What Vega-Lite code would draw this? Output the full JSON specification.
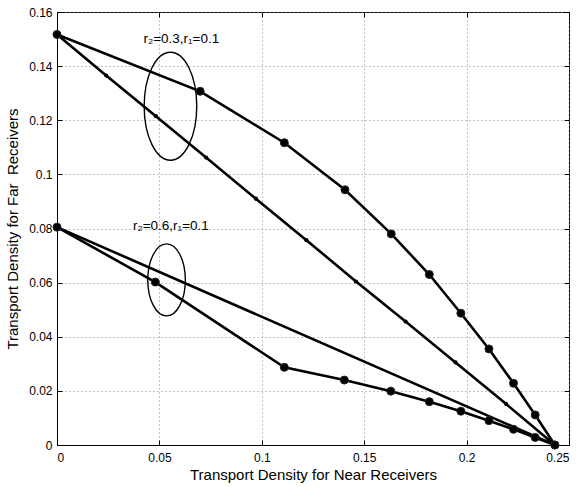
{
  "$schema": "https://vega.github.io/schema/vega-lite/v6.json",
  "width": 512,
  "height": 433,
  "autosize": {"type": "none"},
  "padding": {"left": 57, "top": 12, "right": 13, "bottom": 42},
  "background": "white",
  "config": {
    "view": {"stroke": "black", "strokeWidth": 1},
    "font": "Liberation Sans",
    "axis": {
      "domainColor": "black",
      "tickColor": "black",
      "labelColor": "black",
      "titleColor": "black",
      "labelFont": "Liberation Sans",
      "titleFont": "Liberation Sans",
      "labelFontSize": 12,
      "titleFontSize": 15,
      "titleFontWeight": "normal",
      "gridColor": "#888888",
      "gridDash": [1, 3],
      "gridWidth": 1,
      "tickSize": -5
    }
  },
  "datasets": {
    "series": [
      {"s": "A", "m": "big", "x": 0, "y": 0.1517},
      {"s": "A", "m": "big", "x": 0.0699, "y": 0.1307},
      {"s": "A", "m": "big", "x": 0.111, "y": 0.1117},
      {"s": "A", "m": "big", "x": 0.1406, "y": 0.0943},
      {"s": "A", "m": "big", "x": 0.1632, "y": 0.078},
      {"s": "A", "m": "big", "x": 0.1818, "y": 0.063},
      {"s": "A", "m": "big", "x": 0.1972, "y": 0.0487},
      {"s": "A", "m": "big", "x": 0.2109, "y": 0.0355},
      {"s": "A", "m": "big", "x": 0.2229, "y": 0.0228},
      {"s": "A", "m": "big", "x": 0.2335, "y": 0.0111},
      {"s": "A", "m": "big", "x": 0.2431, "y": 0},
      {"s": "B", "m": "small", "x": 0, "y": 0.1517},
      {"s": "B", "m": "small", "x": 0.024, "y": 0.1365},
      {"s": "B", "m": "small", "x": 0.0483, "y": 0.1215},
      {"s": "B", "m": "small", "x": 0.0728, "y": 0.1062},
      {"s": "B", "m": "small", "x": 0.0971, "y": 0.091},
      {"s": "B", "m": "small", "x": 0.1218, "y": 0.0757},
      {"s": "B", "m": "small", "x": 0.146, "y": 0.0604},
      {"s": "B", "m": "small", "x": 0.1702, "y": 0.0456},
      {"s": "B", "m": "small", "x": 0.1946, "y": 0.0305},
      {"s": "B", "m": "small", "x": 0.2192, "y": 0.0152},
      {"s": "B", "m": "small", "x": 0.2431, "y": 0},
      {"s": "C", "m": "big", "x": 0, "y": 0.0805},
      {"s": "C", "m": "big", "x": 0.048, "y": 0.0602},
      {"s": "C", "m": "big", "x": 0.111, "y": 0.0287},
      {"s": "C", "m": "big", "x": 0.1403, "y": 0.024},
      {"s": "C", "m": "big", "x": 0.163, "y": 0.0199},
      {"s": "C", "m": "big", "x": 0.1818, "y": 0.016},
      {"s": "C", "m": "big", "x": 0.1972, "y": 0.0125},
      {"s": "C", "m": "big", "x": 0.2109, "y": 0.009},
      {"s": "C", "m": "big", "x": 0.2229, "y": 0.0058},
      {"s": "C", "m": "big", "x": 0.2335, "y": 0.0028},
      {"s": "C", "m": "big", "x": 0.2431, "y": 0},
      {"s": "D", "m": "none", "x": 0, "y": 0.0805},
      {"s": "D", "m": "none", "x": 0.2431, "y": 0}
    ]
  },
  "resolve": {"axis": {"x": "independent", "y": "independent"}},
  "layer": [
    {
      "data": {"name": "series"},
      "mark": {"type": "line", "color": "black", "strokeWidth": 2.6},
      "encoding": {
        "x": {
          "field": "x", "type": "quantitative",
          "scale": {"domain": [0, 0.25], "nice": false, "zero": false},
          "axis": {
            "orient": "bottom",
            "values": [0, 0.05, 0.1, 0.15, 0.2, 0.25],
            "format": "~g",
            "labelPadding": 12,
            "title": "Transport Density for Near Receivers",
            "titlePadding": 4
          }
        },
        "y": {
          "field": "y", "type": "quantitative",
          "scale": {"domain": [0, 0.16], "nice": false, "zero": false},
          "axis": {
            "orient": "left",
            "values": [0, 0.02, 0.04, 0.06, 0.08, 0.1, 0.12, 0.14, 0.16],
            "format": "~g",
            "labelPadding": 10,
            "title": "Transport Density for Far\u00a0 Receivers",
            "titlePadding": 8
          }
        },
        "detail": {"field": "s"}
      }
    },
    {
      "data": {"name": "series"},
      "mark": {"type": "rule", "opacity": 0},
      "encoding": {
        "x": {
          "field": "x", "type": "quantitative",
          "axis": {
            "orient": "top",
            "values": [0, 0.05, 0.1, 0.15, 0.2, 0.25],
            "labels": false, "grid": false, "domain": false, "title": null
          }
        },
        "y": {
          "field": "y", "type": "quantitative",
          "axis": {
            "orient": "right",
            "values": [0, 0.02, 0.04, 0.06, 0.08, 0.1, 0.12, 0.14, 0.16],
            "labels": false, "grid": false, "domain": false, "title": null
          }
        }
      }
    },
    {
      "data": {"name": "series"},
      "transform": [{"filter": "datum.m === 'big'"}],
      "mark": {"type": "point", "shape": "circle", "filled": true, "color": "black", "size": 64, "stroke": "#222222", "strokeWidth": 1, "opacity": 1},
      "encoding": {
        "x": {"field": "x", "type": "quantitative", "axis": null},
        "y": {"field": "y", "type": "quantitative", "axis": null}
      }
    },
    {
      "data": {"name": "series"},
      "transform": [{"filter": "datum.m === 'small'"}],
      "mark": {"type": "point", "shape": "circle", "filled": true, "color": "black", "size": 18, "opacity": 1},
      "encoding": {
        "x": {"field": "x", "type": "quantitative", "axis": null},
        "y": {"field": "y", "type": "quantitative", "axis": null}
      }
    },
    {
      "data": {"values": [{"x": 0.0554, "y": 0.1252}]},
      "mark": {
        "type": "point", "filled": false, "color": "black", "strokeWidth": 1.4, "opacity": 1, "size": 11664,
        "shape": "M 0.487 0 C 0.487 0.5523 0.269 1 0 1 C -0.269 1 -0.487 0.5523 -0.487 0 C -0.487 -0.5523 -0.269 -1 0 -1 C 0.269 -1 0.487 -0.5523 0.487 0 Z"
      },
      "encoding": {
        "x": {"field": "x", "type": "quantitative", "axis": null},
        "y": {"field": "y", "type": "quantitative", "axis": null}
      }
    },
    {
      "data": {"values": [{"x": 0.0535, "y": 0.061}]},
      "mark": {
        "type": "point", "filled": false, "color": "black", "strokeWidth": 1.4, "opacity": 1, "size": 5184,
        "shape": "M 0.522 0 C 0.522 0.5523 0.2883 1 0 1 C -0.2883 1 -0.522 0.5523 -0.522 0 C -0.522 -0.5523 -0.2883 -1 0 -1 C 0.2883 -1 0.522 -0.5523 0.522 0 Z"
      },
      "encoding": {
        "x": {"field": "x", "type": "quantitative", "axis": null},
        "y": {"field": "y", "type": "quantitative", "axis": null}
      }
    },
    {
      "data": {"values": [
        {"x": 0.0607, "y": 0.1485, "t": "r₂=0.3,r₁=0.1"},
        {"x": 0.0556, "y": 0.0793, "t": "r₂=0.6,r₁=0.1"}
      ]},
      "mark": {"type": "text", "font": "Liberation Sans", "fontSize": 13.5, "color": "black", "align": "center", "baseline": "alphabetic"},
      "encoding": {
        "x": {"field": "x", "type": "quantitative", "axis": null},
        "y": {"field": "y", "type": "quantitative", "axis": null},
        "text": {"field": "t"}
      }
    }
  ]
}
